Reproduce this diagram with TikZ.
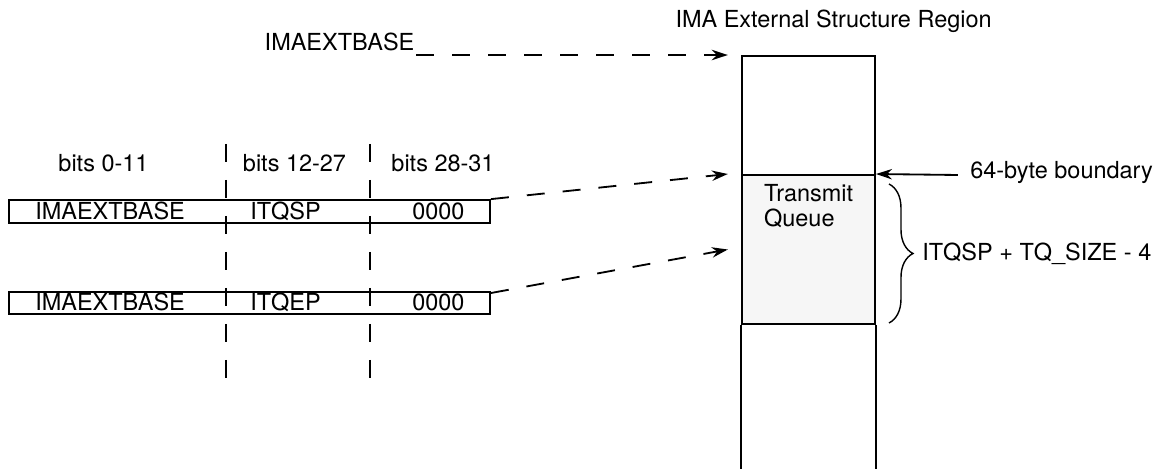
\documentclass[tikz,border=0pt]{standalone}
\usepackage{fontspec}
\setmainfont{TeX Gyre Heros}
\usetikzlibrary{arrows.meta, decorations.pathreplacing, calc}

\begin{document}
\begin{tikzpicture}[
        lbl/.style={inner sep=1pt, font=\fontsize{16.7}{18}\selectfont},
        register/.style={rectangle, draw, line width=1.4pt, minimum width=12.025cm, minimum height=0.57cm, inner sep=0pt},
        memblk/.style={rectangle, draw, line width=1.4pt, minimum width=3.335cm, inner sep=0pt},
        divider/.style={line width=1.3pt, dash pattern=on 0.45cm off 0.45cm},
        ptr/.style={line width=1.3pt, dash pattern=on 0.45cm off 0.45cm, -{Stealth[length=0.4cm, width=0.26cm]}},
        boundary/.style={line width=1.3pt, -{Stealth[length=0.4cm, width=0.26cm]}},
        brc/.style={line width=1pt, decorate, decoration={brace, amplitude=0.6cm}}
    ]

        \useasboundingbox (0,0) rectangle (29.1,11.725);

        \node[lbl, anchor=base] (title) at (20.84, 11.025) {IMA External Structure Region};
        \node[lbl, anchor=base east] (basetxt) at (10.4, 10.458) {IMAEXTBASE};

        % memory region
        \node[memblk, minimum height=2.975cm] (hdr) at (20.2075, 8.8375) {};
        \node[memblk, minimum height=3.725cm, fill=gray!7] (queue) at (20.2075, 5.4875) {};
        \draw[line width=1.4pt] (queue.south west) -- ++(0,-3.625);
        \draw[line width=1.4pt] (queue.south east) -- ++(0,-3.625);
        \node[lbl, anchor=north west, align=left] (qtext) at ([xshift=0.545cm, yshift=-0.215cm]queue.north west) {Transmit\\Queue};

        % bit fields
        \node[lbl, anchor=base] (bitsa) at (2.5875, 7.425) {bits 0-11};
        \node[lbl, anchor=base] (bitsb) at (7.3625, 7.425) {bits 12-27};
        \node[lbl, anchor=base] (bitsc) at (11.075, 7.425) {bits 28-31};

        \node[register] (reg1) at (6.2375, 6.4375) {};
        \node[register] (reg2) at (6.2375, 4.15) {};

        \node[lbl, anchor=base west] (base1) at (0.84, 6.2375) {IMAEXTBASE};
        \node[lbl, anchor=base west] (sp)    at (6.215, 6.2375) {ITQSP};
        \node[lbl, anchor=base west] (zero1) at (10.265, 6.2375) {0000};

        \node[lbl, anchor=base west] (base2) at (0.84, 3.95) {IMAEXTBASE};
        \node[lbl, anchor=base west] (ep)    at (6.215, 3.95) {ITQEP};
        \node[lbl, anchor=base west] (zero2) at (10.265, 3.95) {0000};

        \draw[divider] (5.65, 8.125) -- (5.65, 2.275);
        \draw[divider] (9.25, 8.125) -- (9.25, 2.275);

        % pointers
        \draw[ptr] (basetxt.base east |- hdr.north west) -- ([xshift=-0.32cm]hdr.north west);
        \draw[ptr] (reg1.north east) -- ([xshift=-0.32cm]queue.north west);
        \draw[ptr] ([yshift=-0.06cm]reg2.north east) -- ([xshift=-0.32cm]queue.west);

        \node[lbl, anchor=mid west] (bndtxt) at (24.215, 7.35) {64-byte boundary};
        \draw[boundary] ([xshift=-0.27cm]bndtxt.mid west) -- (queue.north east);

        \draw[brc] ([xshift=0.325cm, yshift=-0.25cm]queue.north east) -- ([xshift=0.325cm, yshift=0.05cm]queue.south east)
            node[lbl, midway, anchor=west, xshift=0.78cm] (size) {ITQSP + TQ\_SIZE - 4};

    \end{tikzpicture}
\end{document}
